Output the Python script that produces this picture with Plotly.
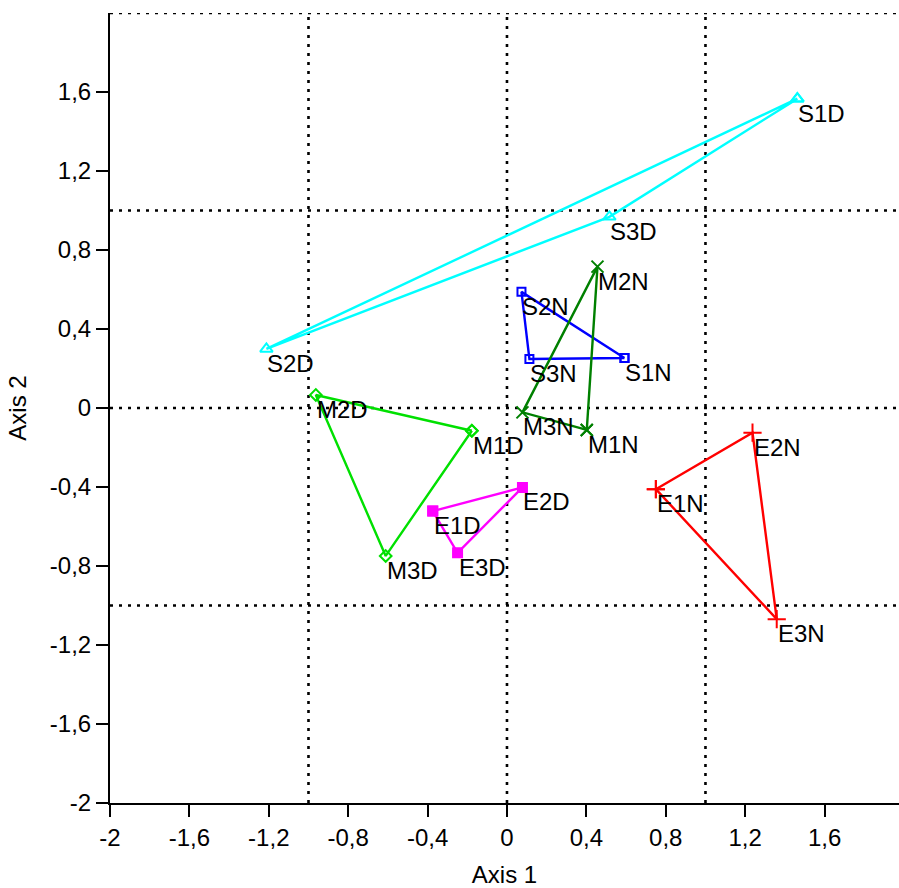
import plotly.graph_objects as go

# Ordination scores (Axis 1, Axis 2) for each group of sites
s_d_labels = ["S1D", "S2D", "S3D"]
s_d_x = [1.463, -1.212, 0.516]
s_d_y = [1.566, 0.299, 0.968]

s_n_labels = ["S1N", "S2N", "S3N"]
s_n_x = [0.592, 0.073, 0.113]
s_n_y = [0.253, 0.588, 0.248]

m_n_labels = ["M1N", "M2N", "M3N"]
m_n_x = [0.402, 0.456, 0.078]
m_n_y = [-0.111, 0.716, -0.022]

m_d_labels = ["M1D", "M2D", "M3D"]
m_d_x = [-0.177, -0.963, -0.611]
m_d_y = [-0.115, 0.066, -0.749]

e_d_labels = ["E1D", "E2D", "E3D"]
e_d_x = [-0.374, 0.078, -0.249]
e_d_y = [-0.522, -0.402, -0.733]

e_n_labels = ["E1N", "E2N", "E3N"]
e_n_x = [0.750, 1.237, 1.359]
e_n_y = [-0.411, -0.125, -1.069]

tick_vals = [-2, -1.6, -1.2, -0.8, -0.4, 0, 0.4, 0.8, 1.2, 1.6]
tick_text = ["-2", "-1,6", "-1,2", "-0,8", "-0,4", "0", "0,4", "0,8", "1,2", "1,6"]

groups = [
    (s_d_labels, s_d_x, s_d_y, "#00FFFF", "triangle-up-open", 11),
    (s_n_labels, s_n_x, s_n_y, "#0000FF", "square-open", 8),
    (m_n_labels, m_n_x, m_n_y, "#008000", "x-thin-open", 12),
    (m_d_labels, m_d_x, m_d_y, "#00E000", "diamond-open", 9),
    (e_d_labels, e_d_x, e_d_y, "#FF00FF", "square", 9),
    (e_n_labels, e_n_x, e_n_y, "#FF0000", "cross-thin-open", 13),
]

FONT = "Liberation Sans, Arial, sans-serif"

fig = go.Figure()
annotations = []
for labels, xs, ys, color, symbol, size in groups:
    # closed polygon joining the three sites of the group
    fig.add_trace(go.Scatter(
        x=xs + [xs[0]], y=ys + [ys[0]],
        mode="lines+markers",
        line=dict(color=color, width=2.4),
        marker=dict(symbol=symbol, size=size, color=color,
                    line=dict(color=color, width=2)),
        hoverinfo="skip",
        showlegend=False,
    ))
    for lab, x, y in zip(labels, xs, ys):
        annotations.append(dict(
            x=x, y=y, xref="x", yref="y", text=lab, showarrow=False,
            xanchor="left", yanchor="top", xshift=-1, yshift=1,
            font=dict(family=FONT, size=24, color="black"),
        ))

# dotted reference lines
shapes = []
dot = dict(color="black", width=2.6, dash="3px,6px")
for v in [-1, 0, 1]:
    shapes.append(dict(type="line", xref="x", yref="paper", x0=v, x1=v,
                       y0=0, y1=1, line=dot, layer="below"))
for h in [-1, 0, 1, 2]:
    shapes.append(dict(type="line", xref="paper", yref="y", x0=0, x1=1,
                       y0=h, y1=h, line=dot, layer="below"))

axis_common = dict(
    tickvals=tick_vals, ticktext=tick_text,
    ticks="outside", ticklen=12, tickwidth=2, tickcolor="black",
    showline=True, linecolor="black", linewidth=2,
    showgrid=False, zeroline=False,
    tickfont=dict(family=FONT, size=24, color="black"),
)

fig.update_layout(
    width=899, height=888,
    margin=dict(l=110, r=0, t=13, b=85),
    plot_bgcolor="white", paper_bgcolor="white",
    xaxis=dict(range=[-2, 1.975], title=dict(text="Axis 1", standoff=16,
               font=dict(family=FONT, size=24, color="black")), **axis_common),
    yaxis=dict(range=[-2, 2], title=dict(text="Axis 2", standoff=16,
               font=dict(family=FONT, size=24, color="black")), **axis_common),
    shapes=shapes,
    annotations=annotations,
)

fig.write_html("out.html")
